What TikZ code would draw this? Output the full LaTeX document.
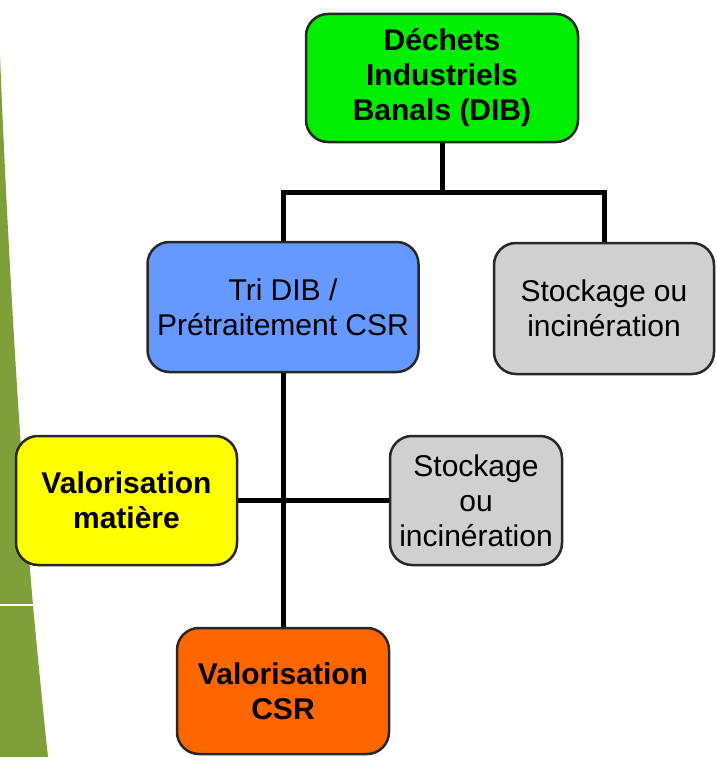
\documentclass[tikz,border=0pt]{standalone}
\usepackage{fontspec}
\setmainfont{Liberation Sans}
\definecolor{bandgreen}{RGB}{127,160,57}
\definecolor{dibgreen}{RGB}{0,238,0}
\definecolor{tridblue}{RGB}{102,153,255}
\definecolor{storegray}{RGB}{208,208,208}
\definecolor{valyellow}{RGB}{255,255,0}
\definecolor{valorange}{RGB}{255,102,0}
\definecolor{boxline}{RGB}{40,40,40}
\tikzset{
  box/.style={draw=boxline, line width=2.5pt, rounded corners=22pt, align=center,
    inner sep=0pt, font=\fontsize{30}{35}\selectfont, text=black},
  boldbox/.style={box, font=\fontsize{30}{35}\selectfont\bfseries},
  link/.style={line width=5pt, draw=black}
}
\begin{document}
\begin{tikzpicture}[x=1pt, y=-1pt]
\useasboundingbox (0,0) rectangle (716,757);
\fill[white] (0,0) rectangle (716,757);
% olive band along the left edge
\fill[bandgreen] (0,55) .. controls (8,260) and (22,480) .. (33,605)
  .. controls (38,660) and (44,720) .. (48,757) -- (0,757) -- cycle;
\draw[white, line width=2pt] (0,605) -- (33,605);

% boxes
\node[boldbox, fill=dibgreen, minimum width=272pt, minimum height=128pt]
  (dib) at (442,78) {Déchets\\Industriels\\Banals (DIB)};
\node[box, fill=tridblue, minimum width=271pt, minimum height=130pt]
  (tri) at (283,307) {Tri DIB /\\Prétraitement CSR};
\node[box, fill=storegray, minimum width=220pt, minimum height=131pt]
  (stock1) at (604,308.5) {Stockage ou\\incinération};
\node[boldbox, fill=valyellow, minimum width=221pt, minimum height=129pt]
  (matiere) at (126.5,500.5) {Valorisation\\matière};
\node[box, fill=storegray, minimum width=172pt, minimum height=129pt]
  (stock2) at (476,500.5) {Stockage\\ou\\incinération};
\node[boldbox, fill=valorange, minimum width=212pt, minimum height=126pt]
  (csr) at (283,691) {Valorisation\\CSR};

% connectors
\coordinate (j1) at (442,192);
\coordinate (j2) at (283,500.5);
\draw[link] (dib.south) -- (j1);
\draw[link] (tri.north) |- (j1) -| (stock1.north);
\draw[link] (tri.south) -- (csr.north);
\draw[link] (matiere.east) -- (stock2.west);
\end{tikzpicture}
\end{document}
